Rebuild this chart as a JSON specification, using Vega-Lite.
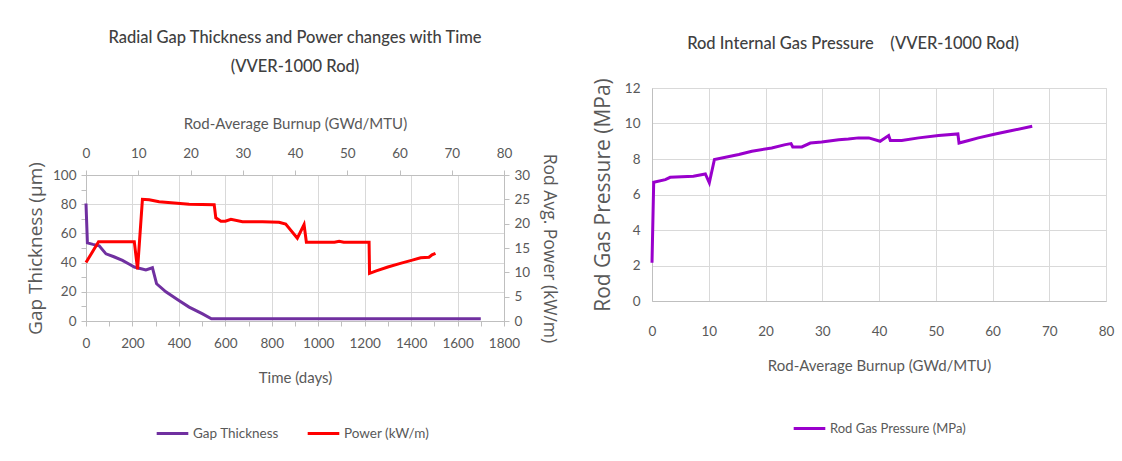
{
  "$schema": "https://vega.github.io/schema/vega-lite/v6.json",
  "background": "white",
  "padding": {"left": 26, "top": 30, "right": 5, "bottom": 5},
  "spacing": 32,
  "datasets": {
    "gap": [
      {"t": 0, "v": 80.5}, {"t": 6, "v": 53.5}, {"t": 30, "v": 52.5}, {"t": 57, "v": 51.5},
      {"t": 86, "v": 46}, {"t": 120, "v": 44}, {"t": 157, "v": 41.5}, {"t": 185, "v": 39},
      {"t": 208, "v": 37}, {"t": 258, "v": 35}, {"t": 286, "v": 36.5}, {"t": 304, "v": 25.5},
      {"t": 344, "v": 20}, {"t": 400, "v": 14}, {"t": 444, "v": 9.5}, {"t": 500, "v": 5},
      {"t": 540, "v": 1.5}, {"t": 1700, "v": 1.5}
    ],
    "power": [
      {"t": 0, "p": 12}, {"t": 54, "p": 16.3}, {"t": 100, "p": 16.3}, {"t": 208, "p": 16.3},
      {"t": 222, "p": 10.6}, {"t": 243, "p": 25}, {"t": 272, "p": 24.9}, {"t": 315, "p": 24.5},
      {"t": 444, "p": 24}, {"t": 552, "p": 23.9}, {"t": 559, "p": 21.2}, {"t": 581, "p": 20.5},
      {"t": 600, "p": 20.5}, {"t": 624, "p": 20.9}, {"t": 674, "p": 20.4}, {"t": 760, "p": 20.4},
      {"t": 831, "p": 20.3}, {"t": 860, "p": 19.9}, {"t": 910, "p": 17.0}, {"t": 939, "p": 19.8},
      {"t": 949, "p": 16.2}, {"t": 1000, "p": 16.2}, {"t": 1070, "p": 16.2}, {"t": 1090, "p": 16.4},
      {"t": 1110, "p": 16.2}, {"t": 1219, "p": 16.2}, {"t": 1221, "p": 9.8}, {"t": 1250, "p": 10.3},
      {"t": 1300, "p": 11.1}, {"t": 1350, "p": 11.8}, {"t": 1405, "p": 12.5}, {"t": 1441, "p": 13.0},
      {"t": 1477, "p": 13.1}, {"t": 1490, "p": 13.6}, {"t": 1505, "p": 13.9}
    ],
    "burnupRange": [{"b": 0}, {"b": 80}],
    "pressure": [
      {"b": 0, "p": 2.15}, {"b": 0.3, "p": 6.69}, {"b": 2.35, "p": 6.84}, {"b": 3.2, "p": 6.97},
      {"b": 7.3, "p": 7.03}, {"b": 9.4, "p": 7.16}, {"b": 10.1, "p": 6.66}, {"b": 11.0, "p": 7.97},
      {"b": 15.3, "p": 8.25}, {"b": 17.6, "p": 8.44}, {"b": 21.1, "p": 8.62}, {"b": 23.5, "p": 8.81},
      {"b": 24.5, "p": 8.87}, {"b": 24.8, "p": 8.68}, {"b": 26.4, "p": 8.68}, {"b": 27.9, "p": 8.9},
      {"b": 29.9, "p": 8.96}, {"b": 32.9, "p": 9.09}, {"b": 34.6, "p": 9.13}, {"b": 36.4, "p": 9.19},
      {"b": 38.2, "p": 9.19}, {"b": 40.2, "p": 9.0}, {"b": 41.7, "p": 9.32}, {"b": 42.0, "p": 9.04},
      {"b": 44.0, "p": 9.04}, {"b": 47.0, "p": 9.19}, {"b": 50.5, "p": 9.32}, {"b": 53.9, "p": 9.41},
      {"b": 54.1, "p": 8.9}, {"b": 55.8, "p": 9.04}, {"b": 57.5, "p": 9.19}, {"b": 60.5, "p": 9.41},
      {"b": 62.8, "p": 9.56}, {"b": 67.0, "p": 9.84}
    ]
  },
  "hconcat": [
    {
      "spacing": 21,
      "vconcat": [
        {
          "title": {
            "text": ["Radial Gap Thickness and Power changes with Time", "(VVER-1000 Rod)"],
            "fontSize": 16.5, "font": "Lato", "fontWeight": 500, "color": "#404040",
            "lineHeight": 29, "offset": 7, "anchor": "middle"
          },
          "width": 418,
          "height": 1,
          "view": {"stroke": null},
          "data": {"values": [{}]},
          "mark": {"type": "text", "text": ""},
          "encoding": {}
        },
        {
          "width": 418,
          "height": 146,
          "layer": [
            {
              "data": {"name": "gap"},
              "mark": {"type": "line", "strokeWidth": 3},
              "encoding": {
                "x": {
                  "field": "t", "type": "quantitative", "scale": {"domain": [0, 1800], "nice": false},
                  "axis": {
                    "orient": "bottom", "title": "Time (days)", "format": "d",
                    "values": [0,100,200,300,400,500,600,700,800,900,1000,1100,1200,1300,1400,1500,1600,1700,1800],
                    "labelExpr": "datum.value % 200 === 0 ? datum.label : ''",
                    "gridOpacity": {"condition": {"test": "datum.value % 200 === 0", "value": 1}, "value": 0},
                    "tickSize": 5, "labelPadding": 10, "titlePadding": 21
                  }
                },
                "y": {
                  "field": "v", "type": "quantitative", "scale": {"domain": [0, 100], "nice": false},
                  "axis": {
                    "orient": "left", "title": "Gap Thickness (µm)",
                    "values": [0,10,20,30,40,50,60,70,80,90,100],
                    "labelExpr": "datum.value % 20 === 0 ? datum.label : ''",
                    "gridOpacity": {"condition": {"test": "datum.value % 20 === 0", "value": 1}, "value": 0},
                    "tickSize": 5, "labelPadding": 5, "titleFont": "Open Sans", "titleFontSize": 19, "titlePadding": 7
                  }
                },
                "color": {
                  "datum": "Gap Thickness",
                  "scale": {"domain": ["Gap Thickness", "Power (kW/m)"], "range": ["#7030A0", "#FF0000"]},
                  "legend": {"orient": "bottom", "direction": "horizontal", "title": null, "offset": 30, "columnPadding": 22}
                }
              }
            },
            {
              "data": {"name": "power"},
              "mark": {"type": "line", "strokeWidth": 3},
              "encoding": {
                "x": {"field": "t", "type": "quantitative", "scale": {"domain": [0, 1800], "nice": false}, "axis": null},
                "y": {
                  "field": "p", "type": "quantitative", "scale": {"domain": [0, 30], "nice": false},
                  "axis": {
                    "orient": "right", "title": "Rod Avg. Power (kW/m)", "values": [0,5,10,15,20,25,30],
                    "grid": false, "tickSize": 5, "labelPadding": 5, "titleFont": "Open Sans", "titleFontSize": 17.5, "titlePadding": 10
                  }
                },
                "color": {"datum": "Power (kW/m)"}
              }
            },
            {
              "data": {"name": "burnupRange"},
              "mark": {"type": "point", "opacity": 0},
              "encoding": {
                "x": {
                  "field": "b", "type": "quantitative", "scale": {"domain": [0, 80], "nice": false},
                  "axis": {
                    "orient": "top", "title": "Rod-Average Burnup (GWd/MTU)", "values": [0,10,20,30,40,50,60,70,80],
                    "grid": false, "tickSize": 5, "labelPadding": 10, "titlePadding": 15
                  }
                }
              }
            }
          ],
          "resolve": {"scale": {"x": "independent", "y": "independent"}}
        }
      ]
    },
    {
      "title": {
        "text": "Rod Internal Gas Pressure\u00a0\u00a0\u00a0 (VVER-1000 Rod)",
        "fontSize": 16.5, "font": "Lato", "fontWeight": 500, "color": "#404040",
        "offset": 25, "anchor": "middle", "dx": -26
      },
      "width": 454,
      "height": 213,
      "data": {"name": "pressure"},
      "mark": {"type": "line", "strokeWidth": 3},
      "encoding": {
        "x": {
          "field": "b", "type": "quantitative", "scale": {"domain": [0, 80], "nice": false},
          "axis": {"title": "Rod-Average Burnup (GWd/MTU)", "values": [0,10,20,30,40,50,60,70,80], "ticks": false, "labelPadding": 23, "titlePadding": 21}
        },
        "y": {
          "field": "p", "type": "quantitative", "scale": {"domain": [0, 12], "nice": false},
          "axis": {"title": "Rod Gas Pressure (MPa)", "values": [0,2,4,6,8,10,12], "ticks": false, "labelPadding": 12,
                   "titleFont": "Open Sans", "titleFontSize": 21, "titlePadding": 11}
        },
        "color": {
          "datum": "Rod Gas Pressure (MPa)",
          "scale": {"domain": ["Rod Gas Pressure (MPa)"], "range": ["#9900CC"]},
          "legend": {"orient": "bottom", "direction": "horizontal", "title": null, "offset": 37, "labelFontSize": 13}
        }
      }
    }
  ],
  "resolve": {"scale": {"color": "independent"}, "legend": {"color": "independent"}},
  "config": {
    "font": "Lato",
    "view": {"stroke": "#D9D9D9", "strokeWidth": 1},
    "axis": {
      "labelFont": "Lato", "labelFontSize": 13.5, "labelColor": "#595959", "labelOverlap": false, "labelFlush": false,
      "titleFont": "Lato", "titleFontSize": 15, "titleFontWeight": "normal", "titleColor": "#595959",
      "gridColor": "#D9D9D9", "gridWidth": 1, "domainColor": "#BFBFBF", "tickColor": "#BFBFBF", "domainWidth": 1
    },
    "legend": {
      "symbolType": "stroke", "symbolStrokeWidth": 3, "symbolSize": 1000,
      "labelFont": "Lato", "labelFontSize": 13.5, "labelColor": "#595959", "labelOffset": 3,
      "layout": {"bottom": {"anchor": "middle"}}
    }
  }
}
